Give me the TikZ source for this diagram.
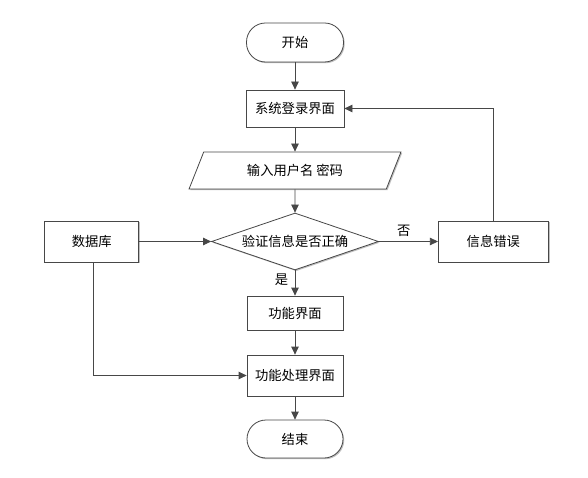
\documentclass[tikz,border=0pt]{standalone}
\usepackage{fontspec}
\setmainfont{Noto Sans CJK SC}
\usetikzlibrary{arrows.meta, positioning, shapes.geometric, shadows}

\begin{document}
\begin{tikzpicture}[
    x=1pt, y=1pt,
    font=\fontsize{13.3}{15}\selectfont,
    shade/.style={drop shadow={shadow xshift=1.2pt, shadow yshift=-1.2pt,
                  fill=black!25, opacity=1}},
    proc/.style={draw=black!72, fill=white, thick, minimum width=96pt,
                 minimum height=37pt, inner sep=2pt, shade},
    term/.style={proc, rounded corners=19pt, minimum height=38pt},
    io/.style={proc, trapezium, trapezium left angle=64, trapezium right angle=116,
               trapezium stretches=true, minimum width=212pt},
    cond/.style={proc, diamond, aspect=2.9, inner sep=0pt,
                 minimum width=167pt, minimum height=57pt},
    arr/.style={-{Triangle[length=8pt, width=7.5pt]}, draw=black!72, thick},
]
    \useasboundingbox[fill=white] (0,0) rectangle (588,-478);

    %==================== main column ====================
    \node[term, minimum width=97pt, minimum height=39pt] (start) at (295,-42.5) {开始};
    \node[proc, minimum width=98pt] (login) at (295,-108.5) {系统登录界面};
    \node[io] (input) at (295,-170.5) {输入用户名 密码};
    \node[cond] (check) at (295,-241.5) {验证信息是否正确};
    \node[proc, minimum height=34pt] (func) at (295,-313) {功能界面};
    \node[proc, minimum height=41pt] (handle) at (295,-375.5) {功能处理界面};
    \node[term] (stop) at (295,-439) {结束};

    %==================== side boxes ====================
    \node[proc, minimum width=94pt, minimum height=41pt, left=72pt of check] (db) {数据库};
    \node[proc, minimum width=110pt, minimum height=41pt, right=59pt of check] (err) {信息错误};

    %==================== connectors ====================
    \draw[arr] (start) -- (login);
    \draw[arr] (login) -- (input);
    \draw[arr] (input) -- (check);
    \draw[arr] (check) -- node[pos=0.38, left=3pt] {是} (func);
    \draw[arr] (func) -- (handle);
    \draw[arr] (handle) -- (stop);
    \draw[arr] (check) -- node[pos=0.42, above=1pt] {否} (err);
    \draw[arr] (err.north) |- (login.east);
    \draw[arr] (db) -- (check);
    \draw[arr] ([xshift=2pt]db.south) |- (handle.west);

\end{tikzpicture}
\end{document}
